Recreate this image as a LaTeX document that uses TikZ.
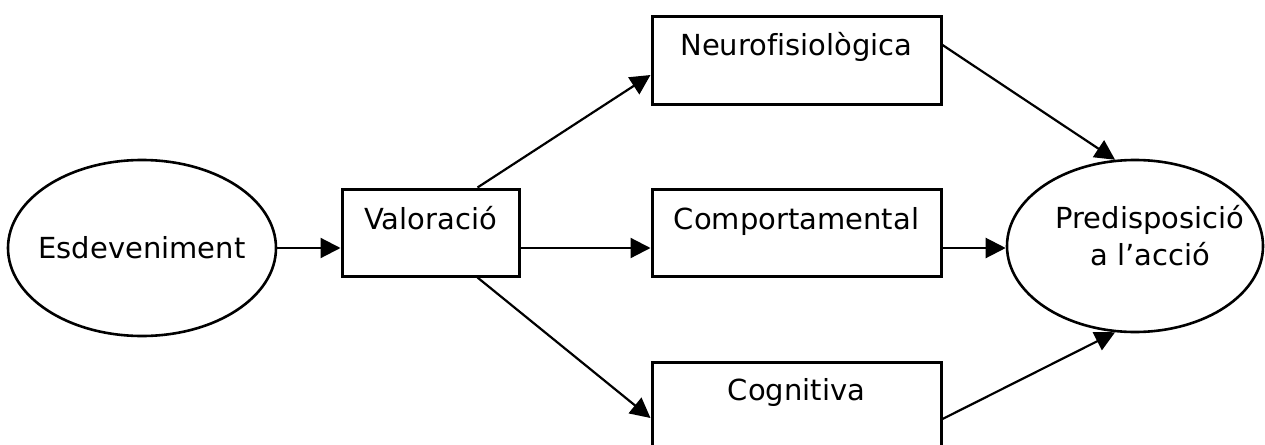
\documentclass[tikz,border=0pt]{standalone}
\usepackage{fontspec}
\setmainfont{DejaVu Sans}[Ligatures=NoCommon]
\usetikzlibrary{arrows.meta,shapes.geometric}
\begin{document}
\begin{tikzpicture}[x=1pt,y=-1pt,
  every node/.style={font=\fontsize{29}{35}\selectfont, inner sep=0pt},
  oval/.style={draw, line width=2.6pt, ellipse},
  stage/.style={draw, line width=3pt, rectangle, minimum width=289pt, minimum height=87pt},
  label/.style={anchor=base},
  link/.style={line width=2.2pt, -{Triangle[length=20pt,width=20pt]}}]
  \clip (0,0) rectangle (1265,444);
  \useasboundingbox (0,0) rectangle (1265,444);

  % event and outcome
  \node[oval, minimum width=268pt, minimum height=176pt] (esd) at (142,248) {};
  \node[label] (esdt) at (142,258) {Esdeveniment};
  \node[oval, minimum width=256pt, minimum height=172pt] (pred) at (1135,246) {};
  \node[label] (predt1) at (1150,228) {Predisposició};
  \node[label] (predt2) at (1150,265) {a l’acció};

  % appraisal and the three response components
  \node[stage, minimum width=177pt] (val) at (430.5,232.5) {};
  \node[stage] (neu) at (796.5,60.5) {};
  \node[stage] (com) at (796.5,232.5) {};
  \node[stage] (cog) at (796.5,405.5) {};
  \node[label] (valt) at ([yshift=-42pt]val.north) {Valoració};
  \node[label] (neut) at ([yshift=-40pt]neu.north) {Neurofisiològica};
  \node[label] (comt) at ([yshift=-42pt]com.north) {Comportamental};
  \node[label] (cogt) at ([yshift=-40pt]cog.north) {Cognitiva};

  % connectors
  \draw[link] (esd.east) -- ([yshift=-15.5pt]val.west);
  \draw[link] ([xshift=47pt]val.north) -- ([yshift=-14.5pt]neu.west);
  \draw[link] ([yshift=-15.5pt]val.east) -- ([yshift=-15.5pt]com.west);
  \draw[link] ([xshift=47pt]val.south) -- ([yshift=-12.5pt]cog.west);
  \draw[link] ([yshift=15.5pt]neu.east) -- (pred.103);
  \draw[link] ([yshift=-15.5pt]com.east) -- ([yshift=-2pt]pred.west);
  \draw[link] ([yshift=-13.5pt]cog.east) -- (pred.257);
\end{tikzpicture}
\end{document}
